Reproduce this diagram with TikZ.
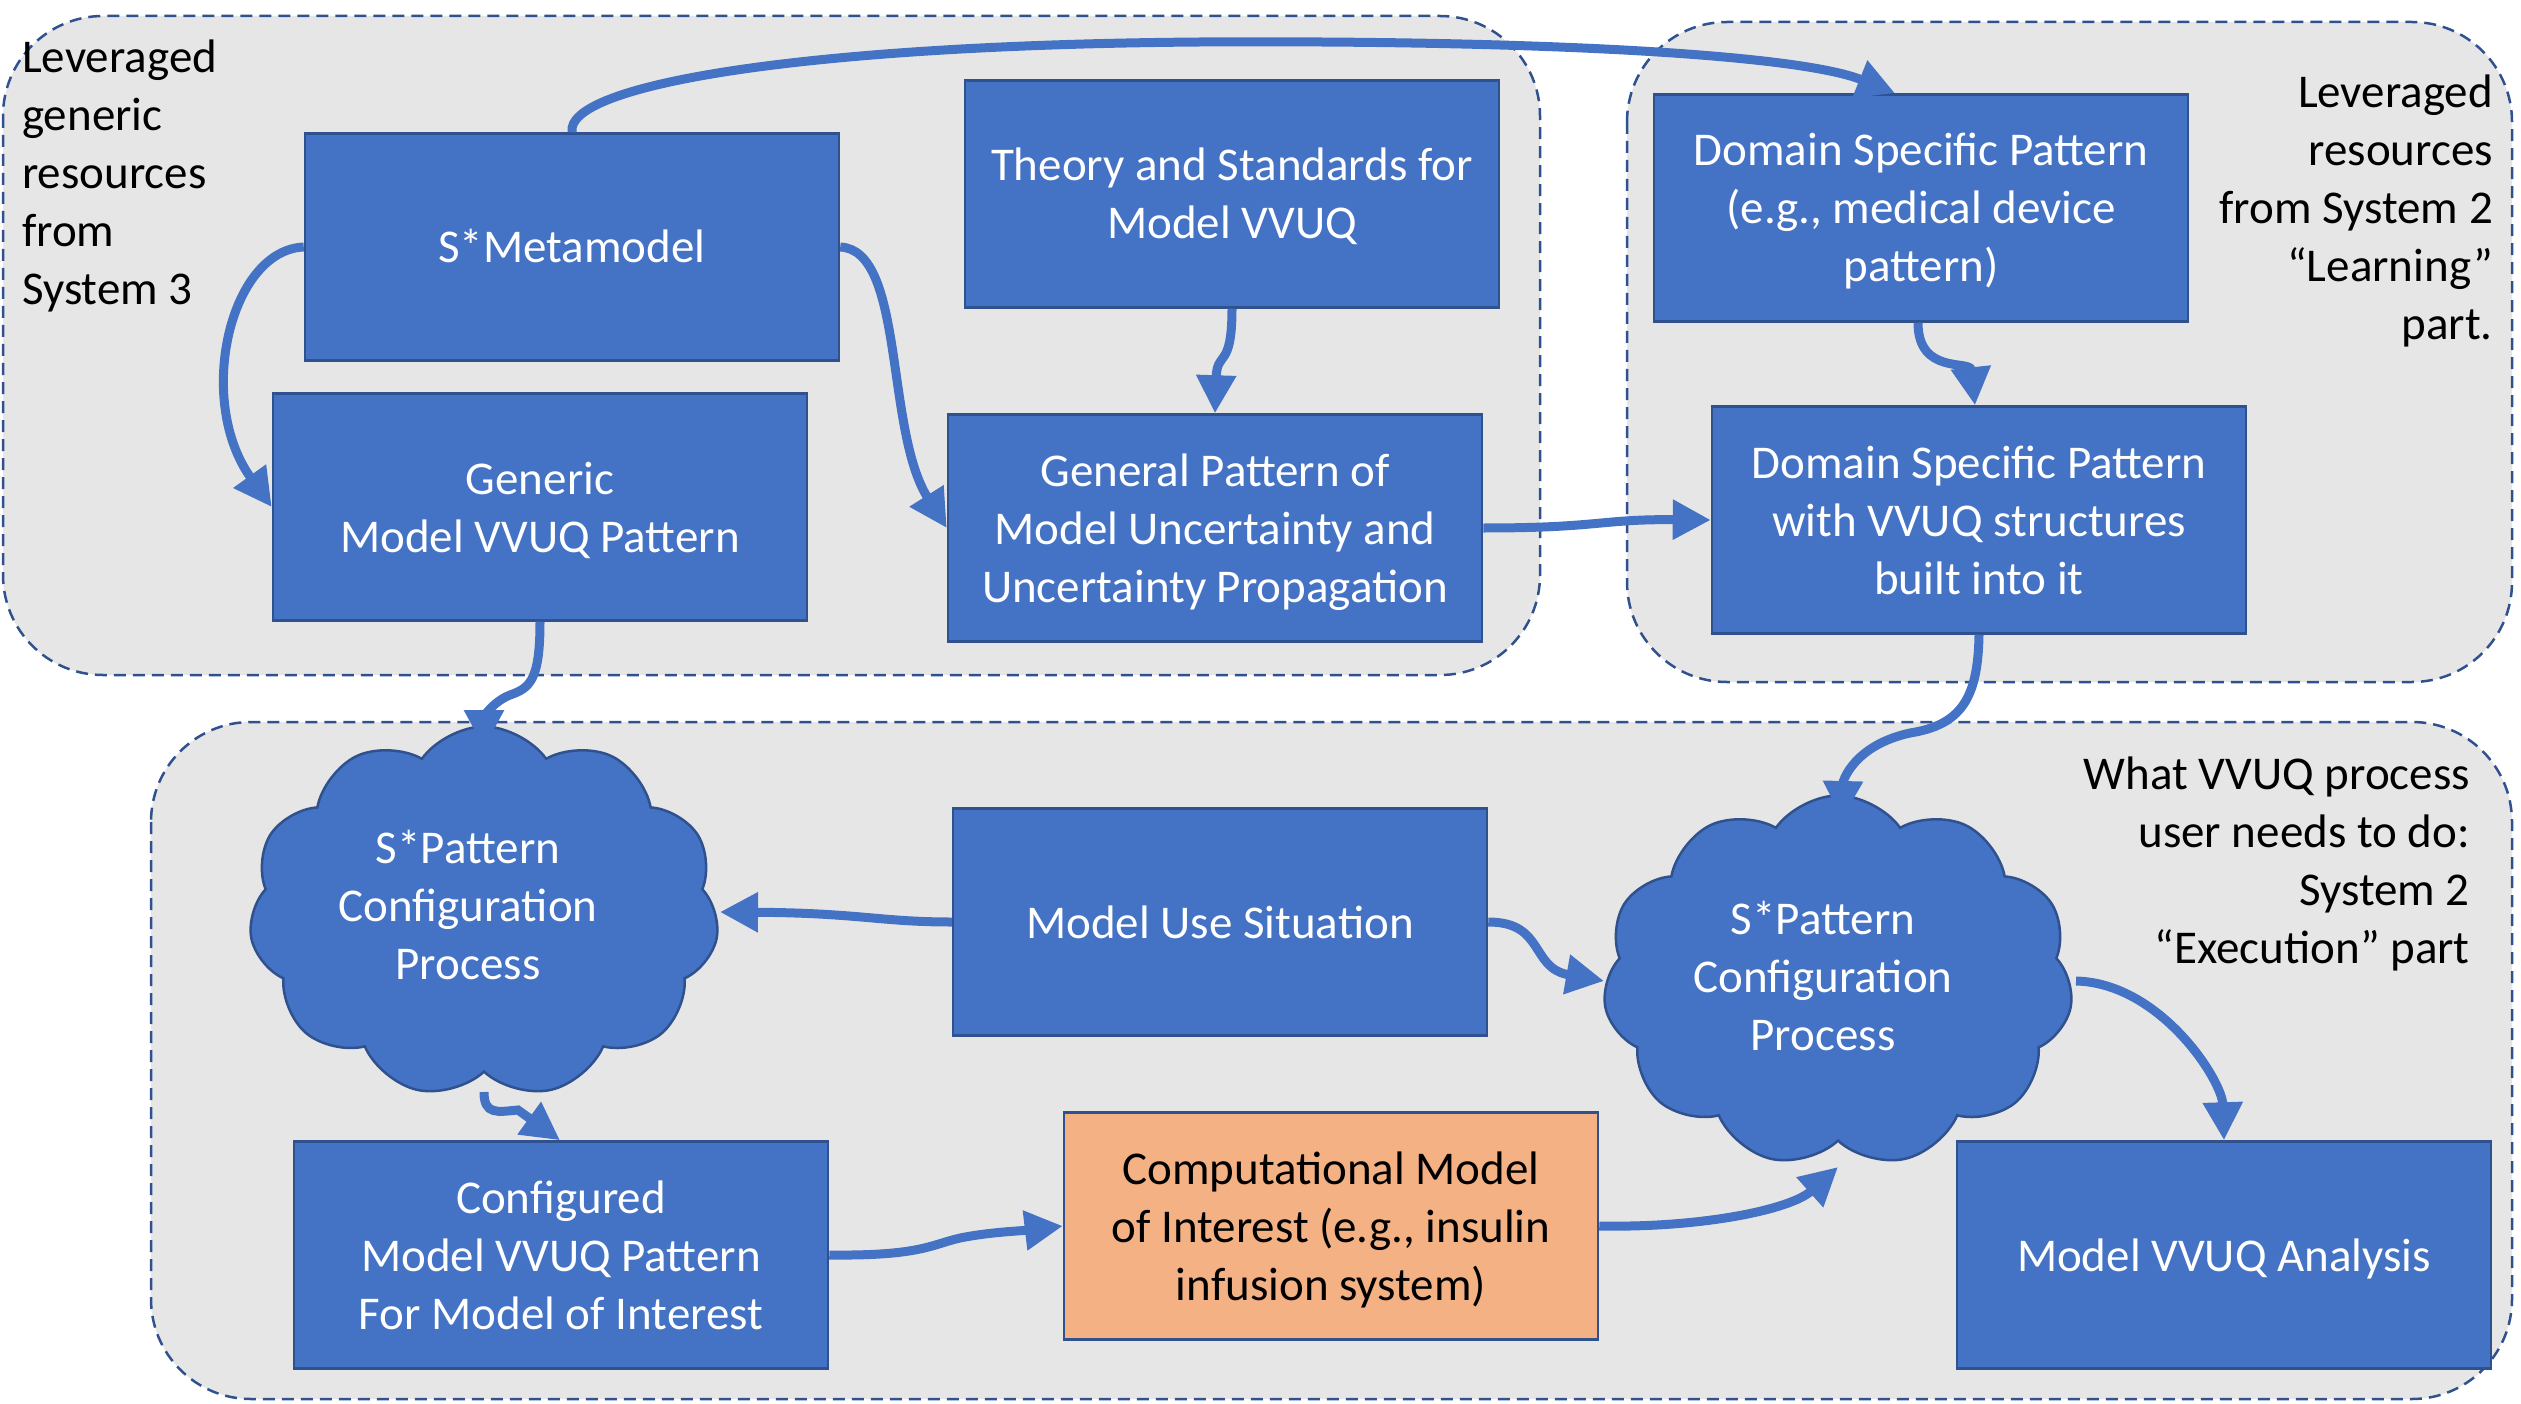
\documentclass[tikz,border=0pt]{standalone}
\usepackage{fontspec}
\setmainfont{Carlito}
\usetikzlibrary{arrows.meta,shapes.symbols}
\definecolor{boxblue}{HTML}{4472C4}
\definecolor{edgeblue}{HTML}{2F528F}
\definecolor{regiongray}{HTML}{E7E6E6}
\definecolor{orangefill}{HTML}{F4B183}
\newcommand{\bs}{\rule[-13pt]{0pt}{58pt}}
\tikzset{
 region/.style={draw=edgeblue, fill=regiongray, line width=2.5pt, dash pattern=on 12pt off 7pt, rounded corners=100pt},
 bluebox/.style={draw=edgeblue, fill=boxblue, line width=2.5pt, minimum width=534pt, minimum height=227pt, text=white, align=center, inner sep=0pt},
 conn/.style={draw=boxblue, line width=9pt, -{Triangle[length=38pt,width=38pt]}},
 cloudnode/.style={cloud, cloud puffs=11, cloud puff arc=110, draw=edgeblue, fill=boxblue, line width=2.5pt, minimum width=470pt, minimum height=371pt, inner sep=0pt},
 cloudtext/.style={text=white, align=center, inner sep=0pt},
 lbl/.style={text=black, inner sep=0pt}
}
\begin{document}
\begin{tikzpicture}[x=1pt, y=-1pt, every node/.append style={font=\fontsize{47}{58}\selectfont}]
\useasboundingbox (0,0) rectangle (2521,1404);
% regions
\path[region] (3,16) rectangle (1540,675);
\path[region] (1627,22) rectangle (2512,682);
\path[region] (151,722) rectangle (2512,1399);
% labels
\node[lbl, anchor=west, align=left] (lblA) at (22,176) {Leveraged\\generic\\resources\\from\\System 3};
\node[lbl, anchor=east, align=right] (lblB) at (2493,211) {Leveraged\\resources\\from System 2\\“Learning”\\part.};
\node[lbl, anchor=east, align=right] (lblC) at (2470,864) {What VVUQ process\\user needs to do:\\System 2\\“Execution” part};
% boxes
\node[bluebox] (meta) at (572,247) {\bs S*Metamodel\bs};
\node[bluebox] (theory) at (1232,194) {\bs Theory and Standards for\\Model VVUQ\bs};
\node[bluebox] (generic) at (540,507) {\bs Generic\\Model VVUQ Pattern\bs};
\node[bluebox] (general) at (1215,528) {\bs General Pattern of\\Model Uncertainty and\\Uncertainty Propagation\bs};
\node[bluebox] (domA) at (1921,208) {\bs Domain Specific Pattern\\(e.g., medical device\\pattern)\bs};
\node[bluebox] (domB) at (1979,520) {\bs Domain Specific Pattern\\with VVUQ structures\\built into it\bs};
\node[cloudnode] (cloudL) at (484,912) {};
\node[cloudtext] (cloudLt) at (468,905) {S*Pattern\\Configuration\\Process};
\node[bluebox] (use) at (1220,922) {\bs Model Use Situation\bs};
\node[cloudnode] (cloudR) at (1838,981) {};
\node[cloudtext] (cloudRt) at (1823,976) {S*Pattern\\Configuration\\Process};
\node[bluebox] (config) at (561,1255) {\bs Configured\\Model VVUQ Pattern\\For Model of Interest\bs};
\node[bluebox, fill=orangefill, text=black] (comp) at (1331,1226) {\bs Computational Model\\of Interest (e.g., insulin\\infusion system)\bs};
\node[bluebox] (anal) at (2224,1255) {\bs Model VVUQ Analysis\bs};
% connectors
\draw[conn] (meta.north) .. controls (565,85) and (800,45) .. (1200,42) .. controls (1550,40) and (1800,55) .. ([xshift=-26pt]domA.north);
\draw[conn] (meta.west) .. controls (230,250) and (195,400) .. (generic.west);
\draw[conn] (meta.east) .. controls (905,250) and (885,430) .. (general.west);
\draw[conn] (theory.south) .. controls (1232,370) and (1217,350) .. (general.north);
\draw[conn] (general.east) .. controls (1600,528) and (1600,519) .. (domB.west);
\draw[conn] ([xshift=-3pt]domA.south) .. controls (1918,375) and (1970,360) .. ([xshift=-4pt]domB.north);
\draw[conn] (domB.south) .. controls (1978,700) and (1960,725) .. (1910,733) .. controls (1855,745) and (1843,780) .. ([xshift=4pt,yshift=162pt]cloudR.center);
\draw[conn] (generic.south) .. controls (540,680) and (530,688) .. (510,695) .. controls (490,703) and (484,720) .. ([yshift=164pt]cloudL.center);
\draw[conn] (use.west) .. controls (880,922) and (860,913) .. ([xshift=236pt]cloudL.center);
\draw[conn] (use.east) .. controls (1545,922) and (1530,968) .. ([xshift=-234pt]cloudR.center);
\draw[conn] ([yshift=-180pt]cloudL.center) .. controls (484,1115) and (497,1112) .. (518,1110) -- ([xshift=-1pt]config.north);
\draw[conn] (config.east) .. controls (920,1256) and (930,1245) .. (960,1238) .. controls (990,1232) and (1020,1231) .. (comp.west);
\draw[conn] (comp.east) .. controls (1700,1228) and (1790,1210) .. ([yshift=-186pt]cloudR.center);
\draw[conn] ([xshift=238pt]cloudR.center) .. controls (2160,983) and (2222,1080) .. (anal.north);
\end{tikzpicture}
\end{document}
